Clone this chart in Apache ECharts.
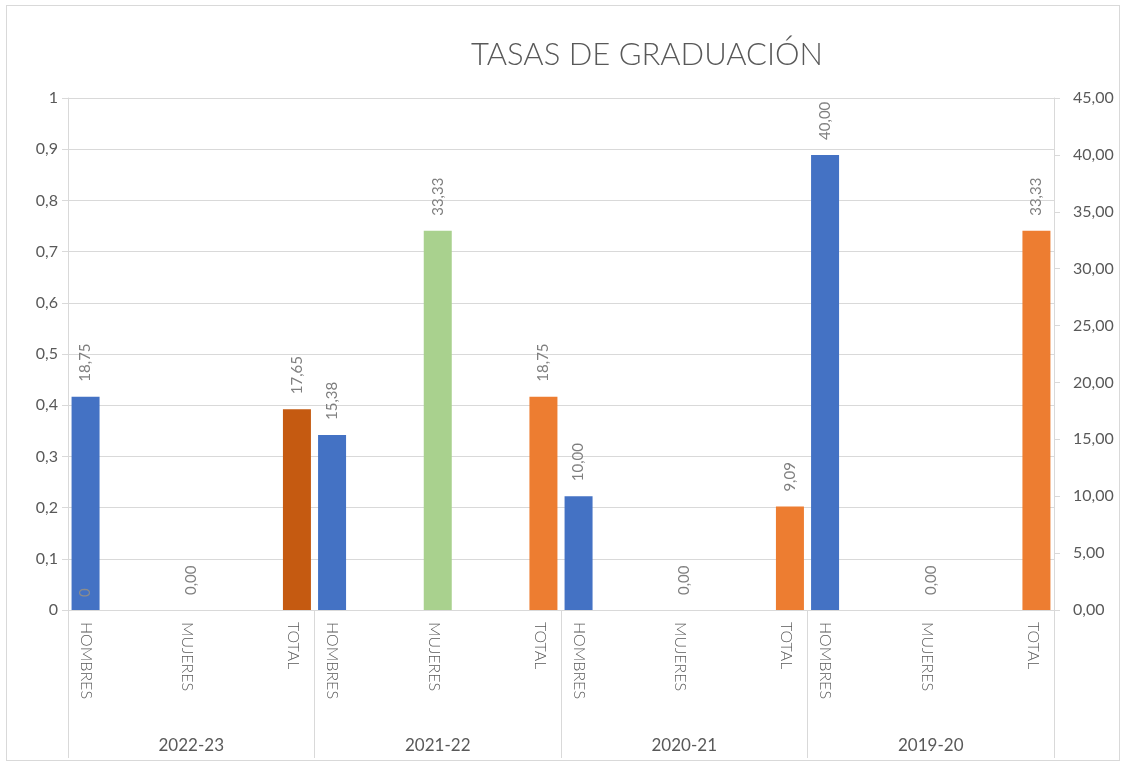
<!DOCTYPE html>
<html>
<head>
<meta charset="utf-8">
<script src="https://cdn.jsdelivr.net/npm/echarts@6/dist/echarts.min.js"></script>
<style>
  html, body { margin: 0; padding: 0; background: #fff; }
  #chart { width: 1126px; height: 764px; }
  #frame { position: absolute; left: 6px; top: 5px; width: 1112px; height: 754px; border: 1px solid #d9d9d9; pointer-events: none; }
</style>
</head>
<body>
<div id="chart"></div>
<div id="frame"></div>
<script>
const categories = ['HOMBRES', 'MUJERES', 'TOTAL', 'HOMBRES', 'MUJERES', 'TOTAL',
  'HOMBRES', 'MUJERES', 'TOTAL', 'HOMBRES', 'MUJERES', 'TOTAL']
const years = ['2022-23', '2021-22', '2020-21', '2019-20']

// primary axis series (only a single zero value shown)
const primaryZero = [0, null, null, null, null, null, null, null, null, null, null, null]
// secondary axis series
const hombres = [18.75, null, null, 15.38, null, null, 10.00, null, null, 40.00, null, null]
const mujeres = [null, 0, null, null, 33.33, null, null, 0, null, null, 0, null]
const total = [null, null, 17.65, null, null, 18.75, null, null, 9.09, null, null, 33.33]

const FONT = 'Lato, "Open Sans", sans-serif'
const GREY = '#595959'
const LINE = '#d9d9d9'

const comma2 = (v) => v.toFixed(2).replace('.', ',')

const valueLabel = {
  show: true,
  position: 'top',
  rotate: 90,
  align: 'left',
  verticalAlign: 'middle',
  distance: 15,
  color: '#7f7f7f',
  fontSize: 15,
  fontFamily: FONT,
  formatter: (p) => comma2(p.value),
}

const barBase = {
  type: 'bar',
  barWidth: 28,
  barGap: '-16%',
  barCategoryGap: '8%',
  xAxisIndex: 0,
}

const chart = echarts.init(document.getElementById('chart'))

chart.setOption({
  animation: false,
  textStyle: { fontFamily: FONT },
  title: {
    text: 'TASAS DE GRADUACIÓN',
    left: 466,
    top: 34,
    textStyle: { fontSize: 31, fontWeight: 300, color: GREY, fontFamily: FONT },
  },
  grid: {
    left: 68,
    right: 72,
    top: 98,
    bottom: 154,
    containLabel: false,
    outerBoundsMode: 'none',
  },
  xAxis: [
    {
      type: 'category',
      data: categories,
      position: 'bottom',
      axisLine: { lineStyle: { color: LINE } },
      axisTick: { show: false },
      axisLabel: {
        interval: 0,
        rotate: -90,
        margin: 12,
        color: GREY,
        fontSize: 16,
        fontWeight: 300,
        fontFamily: FONT,
        formatter: (v) => {
          if (v === 'HOMBRES') return '{h|' + v + '}'
          if (v === 'MUJERES') return '{m|' + v + '}'
          return '{t|' + v + '}'
        },
        rich: {
          h: { padding: [46, 0, 0, 0] },
          m: { padding: [8, 0, 0, 0] },
          t: { padding: [0, 0, 40, 0] },
        },
      },
    },
    {
      type: 'category',
      data: years,
      position: 'bottom',
      axisLine: { show: false },
      axisTick: { show: true, length: 148, lineStyle: { color: LINE } },
      axisLabel: {
        interval: 0,
        margin: 127,
        color: GREY,
        fontSize: 17,
        fontFamily: FONT,
      },
    },
  ],
  yAxis: [
    {
      type: 'value',
      min: 0,
      max: 1,
      interval: 0.1,
      position: 'left',
      axisLine: { show: true, lineStyle: { color: LINE } },
      axisTick: { show: true, length: 6, lineStyle: { color: LINE } },
      splitLine: { show: true, lineStyle: { color: LINE } },
      axisLabel: {
        margin: 10,
        color: GREY,
        fontSize: 16,
        fontFamily: FONT,
        formatter: (v) => String(Math.round(v * 10) / 10).replace('.', ','),
      },
    },
    {
      type: 'value',
      min: 0,
      max: 45,
      interval: 5,
      position: 'right',
      axisLine: { show: true, lineStyle: { color: LINE } },
      axisTick: { show: true, length: 6, lineStyle: { color: LINE } },
      splitLine: { show: false },
      axisLabel: {
        margin: 19,
        color: GREY,
        fontSize: 16,
        fontFamily: FONT,
        formatter: (v) => comma2(v),
      },
    },
  ],
  series: [
    {
      ...barBase,
      name: 'primary',
      stack: 'hom',
      yAxisIndex: 0,
      data: primaryZero,
      itemStyle: { color: '#4472c4' },
      label: {
        ...valueLabel,
        position: 'insideBottom',
        distance: 13,
        color: '#8c8c8c',
        formatter: (p) => String(p.value),
      },
    },
    {
      ...barBase,
      name: 'HOMBRES',
      stack: 'hom',
      yAxisIndex: 1,
      data: hombres,
      itemStyle: { color: '#4472c4' },
      label: valueLabel,
    },
    {
      ...barBase,
      name: 'MUJERES',
      yAxisIndex: 1,
      data: mujeres,
      itemStyle: { color: '#a9d18e' },
      label: valueLabel,
    },
    {
      ...barBase,
      name: 'TOTAL',
      yAxisIndex: 1,
      data: total,
      itemStyle: { color: (p) => (p.dataIndex === 2 ? '#c55a11' : '#ed7d31') },
      label: valueLabel,
    },
  ],
})
</script>
</body>
</html>
